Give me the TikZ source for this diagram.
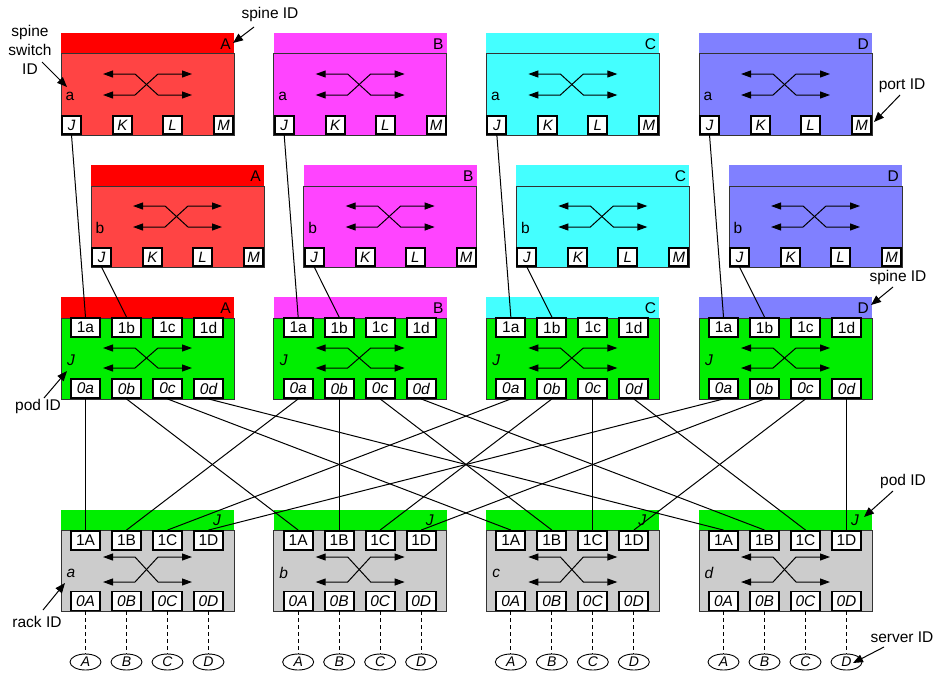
\documentclass[tikz,border=0pt]{standalone}
\usepackage{fontspec}
\setmainfont{Liberation Sans}
\usetikzlibrary{arrows.meta,shapes.geometric}
\definecolor{hA}{HTML}{FF0000}
\definecolor{hB}{HTML}{FF44FF}
\definecolor{hC}{HTML}{44FFFF}
\definecolor{hD}{HTML}{8080FF}
\definecolor{bA}{HTML}{FF4444}
\definecolor{bB}{HTML}{FF44FF}
\definecolor{bC}{HTML}{44FFFF}
\definecolor{bD}{HTML}{8080FF}
\definecolor{podgreen}{HTML}{00EE00}
\definecolor{rackgray}{HTML}{CCCCCC}
\definecolor{edgecol}{HTML}{333333}
\begin{document}
\begin{tikzpicture}[x=1pt,y=-1pt,
  hdr/.style={rectangle,anchor=north west,inner sep=0pt,outer sep=0pt,minimum width=173pt,minimum height=21pt},
  swbody/.style={rectangle,draw=edgecol,line width=1pt,anchor=north west,inner sep=0pt,outer sep=0pt,minimum width=173pt,minimum height=81pt},
  sport/.style={rectangle,draw=black,line width=1.9pt,fill=white,inner sep=0pt,minimum width=19pt,minimum height=18pt,font=\fontsize{15}{15}\selectfont\itshape},
  pport/.style={rectangle,draw=black,line width=1.9pt,fill=white,inner sep=0pt,minimum width=29pt,minimum height=19pt,font=\fontsize{15.5}{15.5}\selectfont},
  ipport/.style={pport,font=\fontsize{15.5}{15.5}\selectfont\itshape},
  lbl/.style={inner sep=0pt,font=\fontsize{15.5}{15.5}\selectfont},
  ilbl/.style={inner sep=0pt,font=\fontsize{15.5}{15.5}\selectfont\itshape},
  xarrow/.style={{Triangle[length=10pt,width=7pt]}-{Triangle[length=10pt,width=7pt]},line width=1pt},
  conn/.style={line width=1pt},
  ann/.style={-{Triangle[length=10pt,width=8pt]},line width=1pt},
  srv/.style={ellipse,draw=black,line width=0.9pt,minimum width=31pt,minimum height=16pt,inner sep=0pt,font=\fontsize{14}{14}\selectfont\itshape},
  srvlink/.style={dash pattern=on 4pt off 3pt,line width=0.9pt}
]
\useasboundingbox (0,0) rectangle (933,675);
\foreach \i/\L/\l in {0/A/a,1/B/b,2/C/c,3/D/d}{
  \pgfmathsetmacro\X{61+212.67*\i}
  \pgfmathsetmacro\Y{\X+30}
  % spine switch a
  \node[hdr,fill=h\L,minimum height=20pt] (saH\L) at (\X,33) {};
  \node[swbody,fill=b\L,minimum height=82pt] (sa\L) at (\X,53) {};
  \node[lbl,anchor=east] (saT\L) at (\X+170,44) {\L};
  \node[lbl] (saI\L) at (\X+9,96) {a};
  \draw[xarrow] (\X+42,74) -- (\X+74,74) -- (\X+97,95) -- (\X+131,95);
  \draw[xarrow] (\X+42,95) -- (\X+74,95) -- (\X+97,74) -- (\X+131,74);
  \foreach \p/\dx in {J/10.5,K/61.5,L/111.5,M/162.5}
    \node[sport] (sa\L\p) at (\X+\dx,125) {\p};
  % spine switch b
  \node[hdr,fill=h\L] (sbH\L) at (\Y,165) {};
  \node[swbody,fill=b\L] (sb\L) at (\Y,186) {};
  \node[lbl,anchor=east] (sbT\L) at (\Y+170,176) {\L};
  \node[lbl] (sbI\L) at (\Y+9,228) {b};
  \draw[xarrow] (\Y+42,206) -- (\Y+74,206) -- (\Y+97,227) -- (\Y+131,227);
  \draw[xarrow] (\Y+42,227) -- (\Y+74,227) -- (\Y+97,206) -- (\Y+131,206);
  \foreach \p/\dx in {J/10.5,K/61.5,L/111.5,M/162.5}
    \node[sport] (sb\L\p) at (\Y+\dx,257) {\p};
  % pod
  \node[hdr,fill=h\L] (pH\L) at (\X,297) {};
  \node[swbody,fill=podgreen] (p\L) at (\X,318) {};
  \node[lbl,anchor=east] (pT\L) at (\X+170,308) {\L};
  \node[ilbl] (pI\L) at (\X+10,360) {J};
  \draw[xarrow] (\X+42,348) -- (\X+74,348) -- (\X+97,368) -- (\X+131,368);
  \draw[xarrow] (\X+42,368) -- (\X+74,368) -- (\X+97,348) -- (\X+131,348);
  \foreach \q/\dx in {a/24.5,b/65.5,c/106.5,d/147.5}{
    \node[pport] (p\L1\q) at (\X+\dx,327.5) {1\q};
    \node[ipport] (p\L0\q) at (\X+\dx,388.5) {0\q};
  }
  % rack
  \node[hdr,fill=podgreen,minimum height=20pt] (rH\l) at (\X,510) {};
  \node[swbody,fill=rackgray] (r\l) at (\X,530) {};
  \node[ilbl] (rP\l) at (\X+156,520) {J};
  \node[ilbl] (rI\l) at (\X+10,573) {\l};
  \draw[xarrow] (\X+42,557) -- (\X+74,557) -- (\X+97,582) -- (\X+131,582);
  \draw[xarrow] (\X+42,582) -- (\X+74,582) -- (\X+97,557) -- (\X+131,557);
  \foreach \q/\dx in {A/24.5,B/65.5,C/106.5,D/147.5}{
    \node[pport] (r\l1\q) at (\X+\dx,540.5) {1\q};
    \node[ipport] (r\l0\q) at (\X+\dx,601) {0\q};
    \node[srv] (s\l\q) at (\X+\dx,662) {\q};
    \draw[srvlink] (r\l0\q.south) -- (s\l\q.north);
  }
}
% connectors
\foreach \L in {A,B,C,D}{
  \draw[conn] (sa\L J.south) -- (p\L1a.north);
  \draw[conn] (sb\L J.south) -- (p\L1b.north);
  \foreach \l in {a,b,c,d}
    \draw[conn] (p\L0\l.south) -- (r\l1\L.north);
}
% annotations
\node[lbl] (t1) at (270,14) {spine ID};
\coordinate (t1s) at (254,27); \coordinate (t1e) at (233,43);
\draw[ann] (t1s) -- (t1e);
\node[lbl,align=center,font=\fontsize{15.5}{19}\selectfont] (t2) at (30,50) {spine\\switch\\ID};
\coordinate (t2s) at (42,62); \coordinate (t2e) at (67,87);
\draw[ann] (t2s) -- (t2e);
\node[lbl] (t3) at (902,86) {port ID};
\coordinate (t3s) at (900,95); \coordinate (t3e) at (874,122);
\draw[ann] (t3s) -- (t3e);
\node[lbl] (t4) at (898,277) {spine ID};
\coordinate (t4s) at (893,287); \coordinate (t4e) at (871,305);
\draw[ann] (t4s) -- (t4e);
\node[lbl] (t5) at (38,406) {pod ID};
\coordinate (t5s) at (44,398); \coordinate (t5e) at (67,371);
\draw[ann] (t5s) -- (t5e);
\node[lbl] (t6) at (903,481) {pod ID};
\coordinate (t6s) at (893,491); \coordinate (t6e) at (864,517);
\draw[ann] (t6s) -- (t6e);
\node[lbl] (t7) at (37,622) {rack ID};
\coordinate (t7s) at (43,610); \coordinate (t7e) at (65,583);
\draw[ann] (t7s) -- (t7e);
\node[lbl] (t8) at (902,637) {server ID};
\coordinate (t8s) at (884,647); \coordinate (t8e) at (853,663);
\draw[ann] (t8s) -- (t8e);
\end{tikzpicture}
\end{document}
